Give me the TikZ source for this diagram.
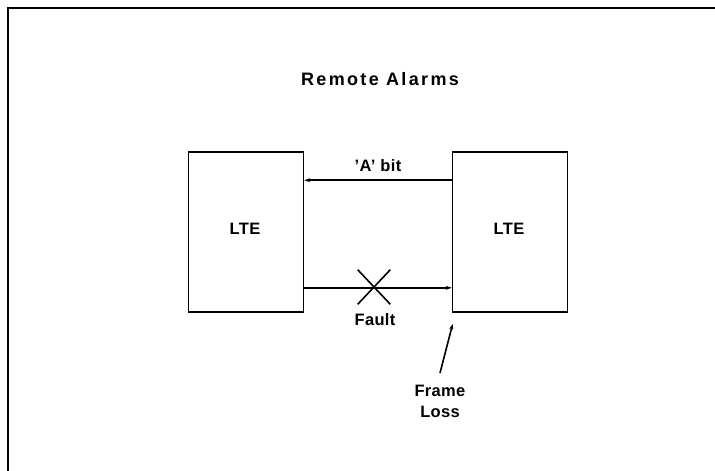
\documentclass[tikz,border=0pt]{standalone}
\usepackage{fontspec}
\setmainfont{Liberation Sans}[LetterSpace=2]
\newfontfamily\titlefont{Liberation Sans}[LetterSpace=13]
\usetikzlibrary{arrows.meta,shapes.misc}
\tikzset{
  lte/.style={draw, line width=1.6pt, minimum width=115pt, minimum height=160pt, inner sep=0pt},
  lbl/.style={font=\fontsize{16.5}{21}\selectfont\bfseries, inner sep=0pt, anchor=base},
  wire/.style={line width=1.6pt},
  arr/.style={wire, -{Stealth[length=6pt,width=4pt]}}
}
\begin{document}
\begin{tikzpicture}[x=1pt,y=-1pt]
\useasboundingbox (0,0) rectangle (715,471);
\draw[line width=1.8pt] (715,8) -- (8,8) -- (8,471);
\node[lbl, font=\titlefont\fontsize{18}{21}\selectfont\bfseries] (title) at (380,85) {Remote Alarms};
\node[lte] (L) at (246,232) {};
\node[lte] (R) at (510,232) {};
\node[lbl] (Lt) at (245,234) {LTE};
\node[lbl] (Rt) at (509,234) {LTE};
\draw[arr] ([yshift=-29pt]R.north west) -- ([yshift=-29pt]L.north east);
\node[lbl] (abit) at (378,171) {'A' bit};
\node[draw, cross out, line width=1.6pt, minimum width=31pt, minimum height=33pt, inner sep=0pt] (X) at (374,287) {};
\draw[arr] ([yshift=25pt]L.south east) -- ([yshift=25pt]R.south west);
\node[lbl] (fault) at (375,325) {Fault};
\node[font=\fontsize{16.5}{21}\selectfont\bfseries, align=center, inner xsep=0pt, inner ysep=12pt, anchor=north] (FL) at (440,373) {Frame\\Loss};
\draw[arr] (FL.north) -- ([xshift=1pt,yshift=-11pt]R.south west);
\end{tikzpicture}
\end{document}
